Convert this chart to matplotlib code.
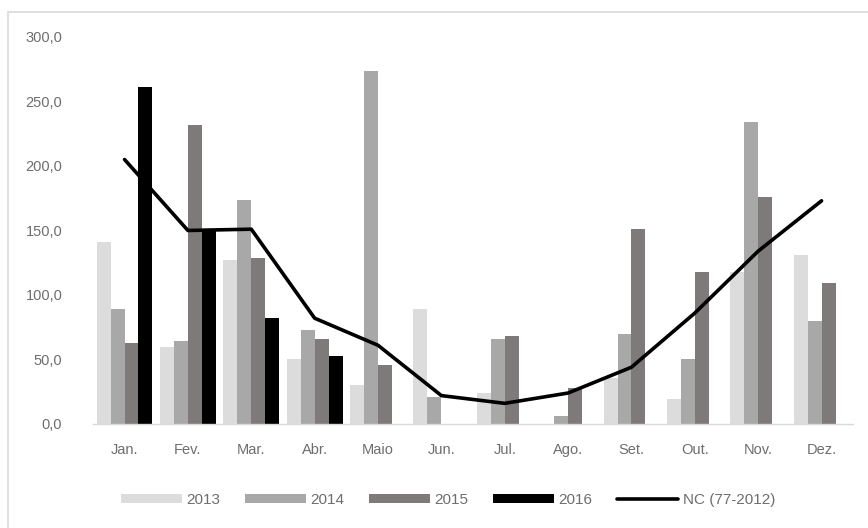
import matplotlib.pyplot as plt
import numpy as np
from matplotlib.patches import Rectangle

plt.rcParams['font.family'] = ['Liberation Sans', 'DejaVu Sans']

# Monthly values
months = ['Jan.', 'Fev.', 'Mar.', 'Abr.', 'Maio', 'Jun.', 'Jul.', 'Ago.', 'Set.', 'Out.', 'Nov.', 'Dez.']
v2013 = [141, 60, 127, 50, 30, 89, 24, 0, 36, 19, 118, 131]
v2014 = [89, 64, 174, 73, 274, 21, 66, 6, 70, 50, 234, 80]
v2015 = [63, 232, 129, 66, 46, 0, 68, 28, 151, 118, 176, 109]
v2016 = [261, 151, 82, 53, 0, 0, 0, 0, 0, 0, 0, 0]
nc_normal = [205, 150, 151, 82, 61, 22, 16, 24, 44, 86, 134, 173]
yticks = [0, 50, 100, 150, 200, 250, 300]

series = [('2013', v2013, '#dcdcdc'),
          ('2014', v2014, '#a8a8a8'),
          ('2015', v2015, '#7f7a7a'),
          ('2016', v2016, '#000000')]

fig = plt.figure(figsize=(8.68, 5.28), dpi=100)
ax = fig.add_axes([0.107, 0.197, 0.876, 0.733])

x = np.arange(len(months))
w = 0.22
handles = []
for i, (lab, vals, col) in enumerate(series):
    b = ax.bar(x + (i - 1.5) * w, vals, width=w, color=col, label=lab, zorder=2)
    handles.append(b)

line, = ax.plot(x, nc_normal, color='black', linewidth=2.6, label='NC (77-2012)', zorder=3,
                solid_capstyle='round')
handles.append(line)

ax.set_xlim(-0.5, len(months) - 0.5)
ax.set_ylim(0, 300)
ax.set_yticks(yticks)
ax.set_yticklabels([f'{t:.1f}'.replace('.', ',') for t in yticks])
ax.set_xticks(x)
ax.set_xticklabels(months)
ax.tick_params(length=0, colors='#6e6e6e', labelsize=10.5)
ax.tick_params(axis='x', pad=14)
ax.tick_params(axis='y', pad=22)

for s in ['top', 'right', 'left']:
    ax.spines[s].set_visible(False)
ax.spines['bottom'].set_color('#d9d9d9')
ax.spines['bottom'].set_linewidth(1.0)

leg = fig.legend(handles=handles, labels=[h.get_label() for h in handles],
                 loc='center', bbox_to_anchor=(0.516, 0.053), ncol=5, frameon=False,
                 handlelength=4.0, handleheight=0.6, columnspacing=1.6,
                 handletextpad=0.3, fontsize=11)
for t in leg.get_texts():
    t.set_color('#6e6e6e')

# Light frame around the chart area (cut off at right and bottom)
fig.patches.append(Rectangle((8 / 868, -0.01), 1.0, 1 - 12 / 528 + 0.01,
                             transform=fig.transFigure, fill=False,
                             edgecolor='#d9d9d9', linewidth=1.2))

fig.savefig('out.png', dpi=100)
